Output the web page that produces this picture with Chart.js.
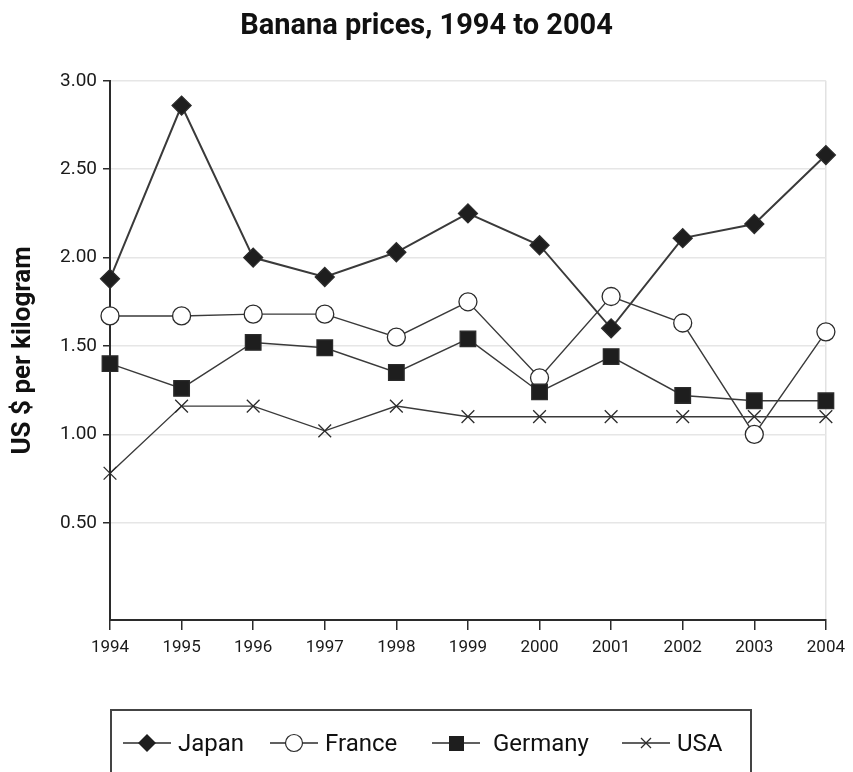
<!DOCTYPE html>
<html lang="en">
<head>
  <meta charset="UTF-8" />
  <title>Banana prices, 1994 to 2004</title>
  <script src="https://cdn.jsdelivr.net/npm/chart.js"></script>
  <style>
    html, body { margin: 0; padding: 0; background: #fff; }
    #wrap { position: relative; width: 853px; height: 772px; overflow: hidden; }
    #legend {
      position: absolute; left: 110px; top: 709px; width: 642px; height: 100px;
      box-sizing: border-box; border: 2px solid #444;
      font-family: Roboto, sans-serif; font-size: 24px; color: #111;
    }
    .item { position: absolute; top: 17px; display: flex; align-items: center; height: 30px; }
    .item svg { margin-right: 7px; }
  </style>
</head>
<body>
  <div id="wrap">
    <canvas id="myChart" width="853" height="772"></canvas>
    <div id="legend"></div>
  </div>

  <script>
    // data
    const years = ['1994', '1995', '1996', '1997', '1998', '1999', '2000', '2001', '2002', '2003', '2004'];
    const japan   = [1.88, 2.86, 2.00, 1.89, 2.03, 2.25, 2.07, 1.60, 2.11, 2.19, 2.58];
    const france  = [1.67, 1.67, 1.68, 1.68, 1.55, 1.75, 1.32, 1.78, 1.63, 1.00, 1.58];
    const germany = [1.40, 1.26, 1.52, 1.49, 1.35, 1.54, 1.24, 1.44, 1.22, 1.19, 1.19];
    const usa     = [0.78, 1.16, 1.16, 1.02, 1.16, 1.10, 1.10, 1.10, 1.10, 1.10, 1.10];
    const yTicks  = [0.5, 1.0, 1.5, 2.0, 2.5, 3.0];

    const ink = '#2b2b2b';
    const font = 'Roboto, sans-serif';

    const series = [
      { label: 'Japan',   data: japan,   style: 'rectRot',  r: 9.5,  fill: '#1e1e1e', width: 2,   order: 0 },
      { label: 'France',  data: france,  style: 'circle',   r: 9,    fill: '#ffffff', width: 1.4, order: 2 },
      { label: 'Germany', data: germany, style: 'rect',     r: 11,   fill: '#1e1e1e', width: 1.4, order: 1 },
      { label: 'USA',     data: usa,     style: 'crossRot', r: 9,    fill: '#ffffff', width: 1.4, order: 3 }
    ];

    new Chart(document.getElementById('myChart'), {
      type: 'line',
      data: {
        labels: years,
        datasets: series.map(s => ({
          label: s.label,
          data: s.data,
          order: s.order,
          borderColor: '#3a3a3a',
          borderWidth: s.width,
          pointStyle: s.style,
          pointRadius: s.r,
          pointBackgroundColor: s.fill,
          pointBorderColor: ink,
          pointBorderWidth: 1.3,
          tension: 0,
          fill: false,
          clip: false
        }))
      },
      options: {
        responsive: false,
        animation: false,
        layout: { padding: 0 },
        plugins: {
          legend: { display: false },
          tooltip: { enabled: false },
          title: {
            display: true,
            text: 'Banana prices, 1994 to 2004',
            color: '#111',
            font: { family: font, size: 29, weight: 'bold', lineHeight: 1.2 },
            padding: { top: 9, bottom: 37 }
          }
        },
        scales: {
          x: {
            afterFit: s => { s.height = 152; },
            border: { display: true, color: ink, width: 2 },
            grid: {
              color: c => c.index === years.length - 1 ? '#e2e2e2' : 'rgba(0,0,0,0)',
              tickColor: ink,
              tickLength: 10,
              lineWidth: 1.5
            },
            ticks: { color: '#1a1a1a', font: { family: font, size: 17 }, padding: 8, maxRotation: 0, autoSkip: false }
          },
          y: {
            min: -0.05,
            max: 3.0,
            afterFit: s => { s.width = 110; },
            afterBuildTicks: a => { a.ticks = yTicks.map(v => ({ value: v })); },
            border: { display: true, color: ink, width: 2 },
            grid: { color: '#e6e6e6', lineWidth: 1.5, tickColor: ink, tickLength: 7 },
            ticks: {
              color: '#1a1a1a',
              font: { family: font, size: 19 },
              padding: 6,
              callback: v => Number(v).toFixed(2)
            },
            title: {
              display: true,
              text: 'US $ per kilogram',
              color: '#111',
              font: { family: font, size: 26, weight: 'bold', lineHeight: 1.2 },
              padding: { top: 8, bottom: 0 }
            }
          },
          // empty right-hand strip so the title stays centred on the page
          side: {
            position: 'right',
            min: 0,
            max: 1,
            afterFit: s => { s.width = 21; },
            border: { display: false },
            grid: { display: false },
            ticks: { display: false }
          }
        }
      }
    });

    // legend in a box under the chart, icons are line + marker
    const legendX = [11, 158, 320, 510];
    function icon(style) {
      let m = '';
      if (style === 'rectRot') m = '<polygon points="24,1 33,10 24,19 15,10" fill="#1e1e1e"/>';
      if (style === 'circle') m = '<circle cx="24" cy="10" r="8.5" fill="#fff" stroke="#2b2b2b" stroke-width="1.2"/>';
      if (style === 'rect') m = '<rect x="17" y="3" width="15" height="15" fill="#1e1e1e"/>';
      if (style === 'crossRot') m = '<path d="M19 5 L29 15 M29 5 L19 15" stroke="#2b2b2b" stroke-width="1.3"/>';
      return '<svg width="48" height="20" viewBox="0 0 48 20"><line x1="0" y1="10" x2="48" y2="10" stroke="#2b2b2b" stroke-width="1.5"/>' + m + '</svg>';
    }
    const legend = document.getElementById('legend');
    series.forEach((s, i) => {
      const d = document.createElement('div');
      d.className = 'item';
      d.style.left = legendX[i] + 'px';
      d.innerHTML = icon(s.style) + '<span' + (i === 2 ? ' style="margin-left:6px"' : '') + '>' + s.label + '</span>';
      legend.appendChild(d);
    });
  </script>
</body>
</html>
